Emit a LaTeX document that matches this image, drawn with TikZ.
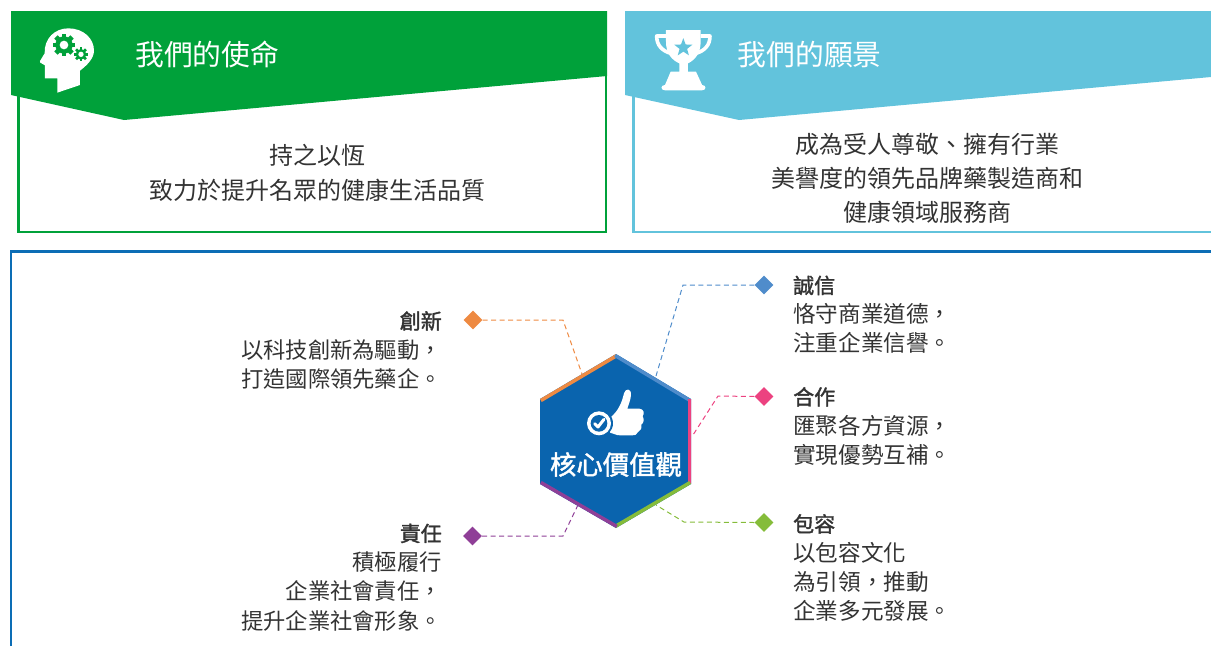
\documentclass[tikz,border=0pt]{standalone}
\usepackage{fontspec}
\setmainfont{Noto Sans CJK TC}
\newfontfamily\semib[FakeBold=1.6]{Noto Sans CJK TC}
\usetikzlibrary{shapes.geometric}
\definecolor{cgreen}{HTML}{00A13A}
\definecolor{csky}{HTML}{62C3DC}
\definecolor{cblue}{HTML}{0A64AE}
\definecolor{cframe}{HTML}{0C6DB5}
\definecolor{corange}{HTML}{EE8A42}
\definecolor{csteel}{HTML}{4F8CCB}
\definecolor{cpink}{HTML}{EC4280}
\definecolor{clime}{HTML}{85BC3A}
\definecolor{cpurple}{HTML}{8F3F97}
\definecolor{ctext}{HTML}{333333}
\newcommand{\headw}[1]{{\semib\fontsize{21}{29.3}\selectfont #1}}
\tikzset{
  x=1pt,y=-1pt,
  frameline/.style={line width=2.6pt,line join=miter},
  link/.style={line width=1pt,dash pattern=on 5pt off 3.5pt},
  mark diamond/.style={diamond,fill=#1,draw=none,minimum width=19pt,minimum height=19pt,inner sep=0pt,aspect=1},
  titletext/.style={inner sep=0pt,text=white,font=\fontsize{28.8}{34}\selectfont,anchor=west},
  bodytext/.style={inner sep=0pt,text=ctext,font=\fontsize{24}{34.3}\selectfont,align=center},
  sidetext/.style={inner sep=0pt,text=ctext,font=\fontsize{22.6}{29.3}\selectfont},
  lefttext/.style={inner sep=0pt,text=ctext,font=\fontsize{22.3}{29.3}\selectfont},
}
\begin{document}
\begin{tikzpicture}
\useasboundingbox (0,0) rectangle (1211,646);
% mission
\draw[frameline,draw=cgreen] (18.5,90) -- (18.5,232) -- (606,232) -- (606,70);
\fill[cgreen] (11,11) -- (607,11) -- (607,76) -- (124,120) -- (11,95) -- cycle;
% vision
\draw[frameline,draw=csky] (633.5,90) -- (633.5,232) -- (1211,232);
\fill[csky] (625,11) -- (1211,11) -- (1211,77) -- (739,120) -- (625,95) -- cycle;
% values frame
\draw[frameline,draw=cframe] (11,646) -- (11,251.5) -- (1211,251.5);
% head icon (zoom coordinates)
\begin{scope}[x=0.3333pt,y=-0.3333pt]
\fill[white] (172,278) -- (172,235) -- (135,235) -- (135,196) -- (121,188) -- (120,183) -- (134,160)
  .. controls (132,115) and (165,85) .. (205,85)
  .. controls (250,85) and (282,115) .. (282,152)
  .. controls (282,175) and (262,195) .. (240,212) -- (240,255) -- cycle;
\fill[cgreen] (192,135) circle (26);
\foreach \a in {0,45,...,315}
  \fill[cgreen,rotate around={\a:(192,135)}] (185,101) rectangle (199,115);
\fill[white] (192,135) circle (13);
\fill[cgreen] (243,163) circle (16);
\foreach \a in {0,45,...,315}
  \fill[cgreen,rotate around={\a:(243,163)}] (239,142) rectangle (247,152);
\fill[white] (243,163) circle (8);
\end{scope}
% trophy icon
\begin{scope}[x=0.3333pt,y=-0.3333pt,shift={(600pt,0pt)}]
\draw[white,line width=3.6pt,line join=round] (198,108) -- (170,108) .. controls (170,135) and (185,152) .. (212,160);
\draw[white,line width=3.6pt,line join=round] (302,108) -- (330,108) .. controls (330,135) and (315,152) .. (288,160);
\fill[white] (198,90) -- (302,90) -- (302,125) .. controls (302,160) and (285,180) .. (264,190) -- (264,215) -- (288,215) -- (306,254) -- (306,255)
  .. controls (320,255) and (320,271) .. (306,271) -- (195,271) .. controls (181,271) and (181,255) .. (195,255) -- (212,215) -- (238,215) -- (238,190)
  .. controls (215,180) and (198,160) .. (198,125) -- cycle;
\node[star,star points=5,star point ratio=2.4,fill=csky,draw=none,minimum size=19pt,inner sep=0pt] (trophystar) at (250,143) {};
\end{scope}
\node[titletext] (missiontitle) at (135,54.5) {我們的使命};
\node[titletext] (visiontitle) at (737.5,54.5) {我們的願景};
\node[bodytext] (missionbody) at (317.5,173) {持之以恆\\致力於提升名眾的健康生活品質};
\node[bodytext] (visionbody) at (927,178.5) {成為受人尊敬、擁有行業\\美譽度的領先品牌藥製造商和\\健康領域服務商};
% hexagon vertices
\coordinate (ht) at (616,354);
\coordinate (hur) at (691,399);
\coordinate (hlr) at (691,484);
\coordinate (hb) at (616,528);
\coordinate (hll) at (540,484);
\coordinate (hul) at (540,399);
% free bends
\coordinate (bo) at (563,320);
\coordinate (eo) at (582,374);
\coordinate (bs) at (683,285);
\coordinate (es) at (656,376);
\coordinate (bp) at (718,396);
\coordinate (ep) at (693,435);
\coordinate (bl) at (684,522);
\coordinate (el) at (656,505);
\coordinate (bu) at (563,536);
\coordinate (eu) at (578,505);
% diamonds
\node[mark diamond=corange] (do) at (473,320) {};
\node[mark diamond=csteel] (ds) at (764,285) {};
\node[mark diamond=cpink] (dp) at (764,396.5) {};
\node[mark diamond=clime] (dl) at (764,522.5) {};
\node[mark diamond=cpurple] (du) at (472.5,536) {};
% connectors
\draw[link,draw=corange] (do.east) -- (bo) -- (eo);
\draw[link,draw=csteel] (ds.west) -- (bs) -- (es);
\draw[link,draw=cpink] (dp.west) -- (bp) -- (ep);
\draw[link,draw=clime] (dl.west) -- (bl) -- (el);
\draw[link,draw=cpurple] (du.east) -- (bu) -- (eu);
% hexagon
\fill[cblue] (ht) -- (hur) -- (hlr) -- (hb) -- (hll) -- (hul) -- cycle;
\begin{scope}
\clip (ht) -- (hur) -- (hlr) -- (hb) -- (hll) -- (hul) -- cycle;
\draw[line width=7pt,draw=corange] (hul) -- (ht);
\draw[line width=7pt,draw=csteel] (ht) -- (hur);
\draw[line width=7pt,draw=cpink] (hur) -- (hlr);
\draw[line width=7pt,draw=clime] (hlr) -- (hb);
\draw[line width=7pt,draw=cpurple] (hb) -- (hll);
\end{scope}
% thumb icon
\begin{scope}[x=0.3333pt,y=-0.3333pt,shift={(520pt,-340pt)}]
\fill[white] (270,278) -- (272,232) .. controls (295,212) and (305,190) .. (312,160)
  .. controls (316,145) and (334,143) .. (333,165) .. controls (332,180) and (326,192) .. (322,206)
  -- (358,206) .. controls (372,206) and (374,222) .. (368,228) .. controls (374,240) and (370,250) .. (364,254)
  .. controls (366,266) and (362,272) .. (354,276) .. controls (352,284) and (345,286) .. (335,286)
  -- (300,286) .. controls (288,286) and (280,280) .. (270,278) -- cycle;
\fill[cblue] (237,250) circle (42);
\fill[white] (237,250) circle (36);
\fill[cblue] (237,250) circle (25);
\draw[white,line width=3pt,line cap=round,line join=round] (224,251) -- (234,261) -- (252,238);
\end{scope}
\node[inner sep=0pt,text=white,font=\semib\fontsize{26.4}{30}\selectfont] (hexlabel) at (616,464.5) {核心價值觀};
% right texts
\node[sidetext,anchor=north west,align=left] (t1) at (793,275.5) {\headw{誠信}\\恪守商業道德，\\注重企業信譽。};
\node[sidetext,anchor=north west,align=left] (t2) at (793,387) {\headw{合作}\\匯聚各方資源，\\實現優勢互補。};
\node[sidetext,anchor=north west,align=left] (t3) at (793,514) {\headw{包容}\\以包容文化\\為引領，推動\\企業多元發展。};
% left texts
\node[lefttext,anchor=north east,align=right] (t4) at (442,311) {\headw{創新}\\以科技創新為驅動，\\打造國際領先藥企。};
\node[lefttext,anchor=north east,align=right] (t5) at (442,523.5) {\headw{責任}\\積極履行\\企業社會責任，\\提升企業社會形象。};
\end{tikzpicture}
\end{document}
